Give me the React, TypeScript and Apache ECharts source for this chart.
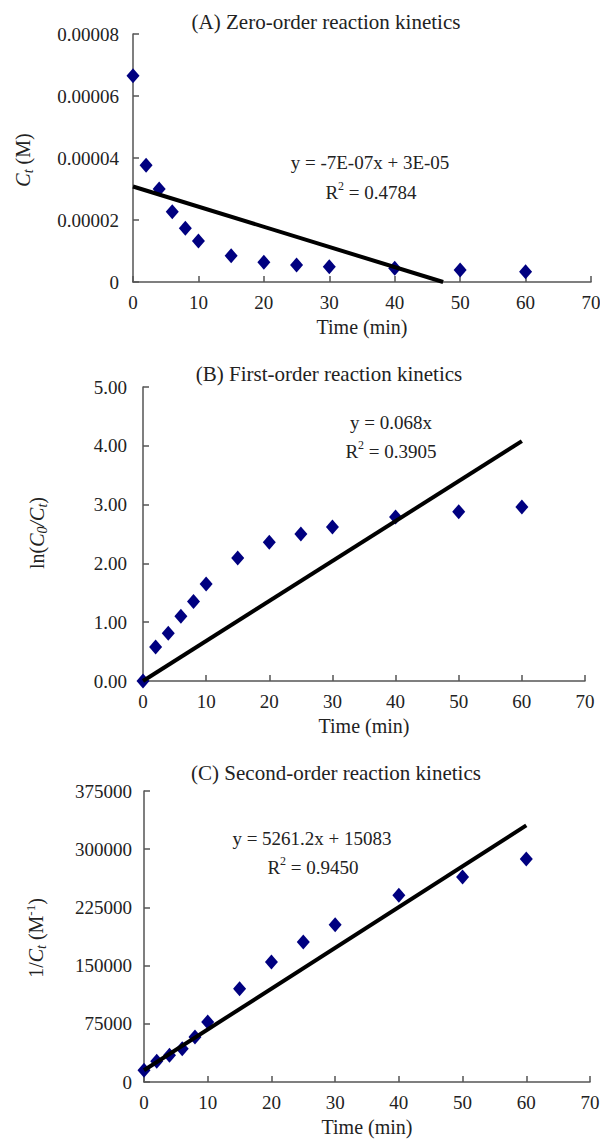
import React, { useEffect, useRef } from "react";
import * as echarts from "echarts";

// ---- data ----
const timeMin = [0, 2, 4, 6, 8, 10, 15, 20, 25, 30, 40, 50, 60];
const zeroOrderC = [6.65e-5, 3.77e-5, 3.0e-5, 2.27e-5, 1.73e-5, 1.32e-5, 8.5e-6, 6.35e-6, 5.5e-6, 4.9e-6, 4.4e-6, 3.9e-6, 3.3e-6];
const firstOrderLn = [0, 0.58, 0.81, 1.1, 1.35, 1.65, 2.09, 2.36, 2.5, 2.62, 2.79, 2.88, 2.96];
const secondOrderInv = [15000, 26700, 34400, 43000, 58000, 77300, 120300, 154600, 180400, 202800, 240600, 264200, 287400];

const trendA = [[0, 3.08e-5], [47.4, 0]];
const trendB = [[0, 0], [60, 4.08]];
const trendC = [[0, 15083], [60, 330755]];

const panelTitles = [
  "(A) Zero-order reaction kinetics",
  "(B) First-order reaction kinetics",
  "(C) Second-order reaction kinetics",
];
const equationA = ["y = -7E-07x + 3E-05", "0.4784"];
const equationB = ["y = 0.068x", "0.3905"];
const equationC = ["y = 5261.2x + 15083", "0.9450"];
const xAxisName = "Time (min)";

const FONT = '"Liberation Serif", "Times New Roman", serif';
const TEXT = "#222";
const AXIS = "#555";
const MARK = "#000080";

function buildOption() {
  const grids = [
    { left: 133, top: 34, width: 458, height: 248 },
    { left: 143, top: 387, width: 442, height: 294 },
    { left: 144, top: 791, width: 446, height: 291 },
  ];
  const axisLine = { show: true, lineStyle: { color: AXIS, width: 1.5 } };
  const axisTick = { show: true, inside: true, length: 6, lineStyle: { color: AXIS, width: 1.5 } };
  const lbl = { fontSize: 19, fontFamily: FONT, color: TEXT };

  const xAxes = grids.map((_, i) => ({
    gridIndex: i,
    type: "value",
    min: 0,
    max: 70,
    interval: 10,
    axisLine,
    axisTick,
    splitLine: { show: false },
    axisLabel: { ...lbl, margin: 11 },
    name: xAxisName,
    nameLocation: "middle",
    nameGap: 35,
    nameTextStyle: { fontSize: 20, fontFamily: FONT, color: TEXT },
  }));

  const yBase = (i: number) => ({
    gridIndex: i,
    type: "value",
    axisLine,
    axisTick,
    splitLine: { show: false },
  });
  const yAxes = [
    {
      ...yBase(0),
      min: 0,
      max: 0.00008,
      interval: 0.00002,
      axisLabel: { ...lbl, margin: 14, formatter: (v: number) => (v === 0 ? "0" : v.toFixed(5)) },
    },
    {
      ...yBase(1),
      min: 0,
      max: 5,
      interval: 1,
      axisLabel: { ...lbl, margin: 16, formatter: (v: number) => v.toFixed(2) },
    },
    {
      ...yBase(2),
      min: 0,
      max: 375000,
      interval: 75000,
      axisLabel: { ...lbl, margin: 12, formatter: (v: number) => String(Math.round(v)) },
    },
  ];

  const datasets = [zeroOrderC, firstOrderLn, secondOrderInv];
  const trends = [trendA, trendB, trendC];
  const series: any[] = [];
  datasets.forEach((arr, i) => {
    series.push({
      type: "scatter",
      xAxisIndex: i,
      yAxisIndex: i,
      symbol: "diamond",
      symbolSize: [13, 15],
      itemStyle: { color: MARK, opacity: 1 },
      data: timeMin.map((t, k) => [t, arr[k]]),
      z: 2,
    });
    series.push({
      type: "line",
      xAxisIndex: i,
      yAxisIndex: i,
      symbol: "none",
      lineStyle: { color: "#000", width: 4 },
      data: trends[i],
      z: 3,
    });
  });

  const baseStyle = { fontFamily: FONT, fill: TEXT };
  const rich = {
    n: { fontSize: 19, fontFamily: FONT, color: TEXT, lineHeight: 24 },
    sup: { fontSize: 12, fontFamily: FONT, color: TEXT, lineHeight: 12, verticalAlign: "top" },
    i: { fontSize: 20, fontFamily: FONT, color: TEXT, fontStyle: "italic", lineHeight: 24 },
    r: { fontSize: 20, fontFamily: FONT, color: TEXT, lineHeight: 24 },
    sub: { fontSize: 14, fontFamily: FONT, color: TEXT, fontStyle: "italic", lineHeight: 14, verticalAlign: "bottom" },
    sup2: { fontSize: 13, fontFamily: FONT, color: TEXT, lineHeight: 13, verticalAlign: "top" },
  };
  const txt = (x: number, y: number, text: string, fontSize: number, extra: any = {}) => ({
    type: "text",
    x,
    y,
    ...extra,
    style: {
      ...baseStyle,
      text,
      fontSize,
      rich,
      align: "center",
      verticalAlign: "middle",
      textAlign: "center",
      textVerticalAlign: "middle",
    },
  });

  const graphics = [
    txt(326, 22, panelTitles[0], 21),
    txt(329, 374, panelTitles[1], 21),
    txt(336, 773, panelTitles[2], 21),
    txt(370, 162, `{n|${equationA[0]}}`, 19),
    txt(371, 192, `{n|R}{sup|2}{n| = ${equationA[1]}}`, 19),
    txt(391, 422, `{n|${equationB[0]}}`, 19),
    txt(391, 451, `{n|R}{sup|2}{n| = ${equationB[1]}}`, 19),
    txt(312, 838, `{n|${equationC[0]}}`, 19),
    txt(313, 867, `{n|R}{sup|2}{n| = ${equationC[1]}}`, 19),
    txt(23, 160, `{i|C}{sub|t}{r| (M)}`, 20, { rotation: Math.PI / 2 }),
    txt(37, 533, `{r|ln(}{i|C}{sub|0}{i|/C}{sub|t}{r|)}`, 20, { rotation: Math.PI / 2 }),
    txt(36, 938, `{r|1/}{i|C}{sub|t}{r| (M}{sup2|-1}{r|)}`, 20, { rotation: Math.PI / 2 }),
  ];

  return {
    animation: false,
    backgroundColor: "#fff",
    grid: grids.map((g) => ({ ...g, containLabel: false, outerBoundsMode: "none" })),
    xAxis: xAxes,
    yAxis: yAxes,
    series,
    graphic: { elements: graphics },
  };
}

export default function App() {
  const ref = useRef<HTMLDivElement>(null);
  useEffect(() => {
    if (!ref.current) return;
    const chart = echarts.init(ref.current, null, { renderer: "svg" });
    chart.setOption(buildOption() as any);
    return () => chart.dispose();
  }, []);
  return (
    <div
      ref={ref}
      style={{ position: "absolute", left: 0, top: 0, width: 600, height: 1142, background: "#fff" }}
    />
  );
}
